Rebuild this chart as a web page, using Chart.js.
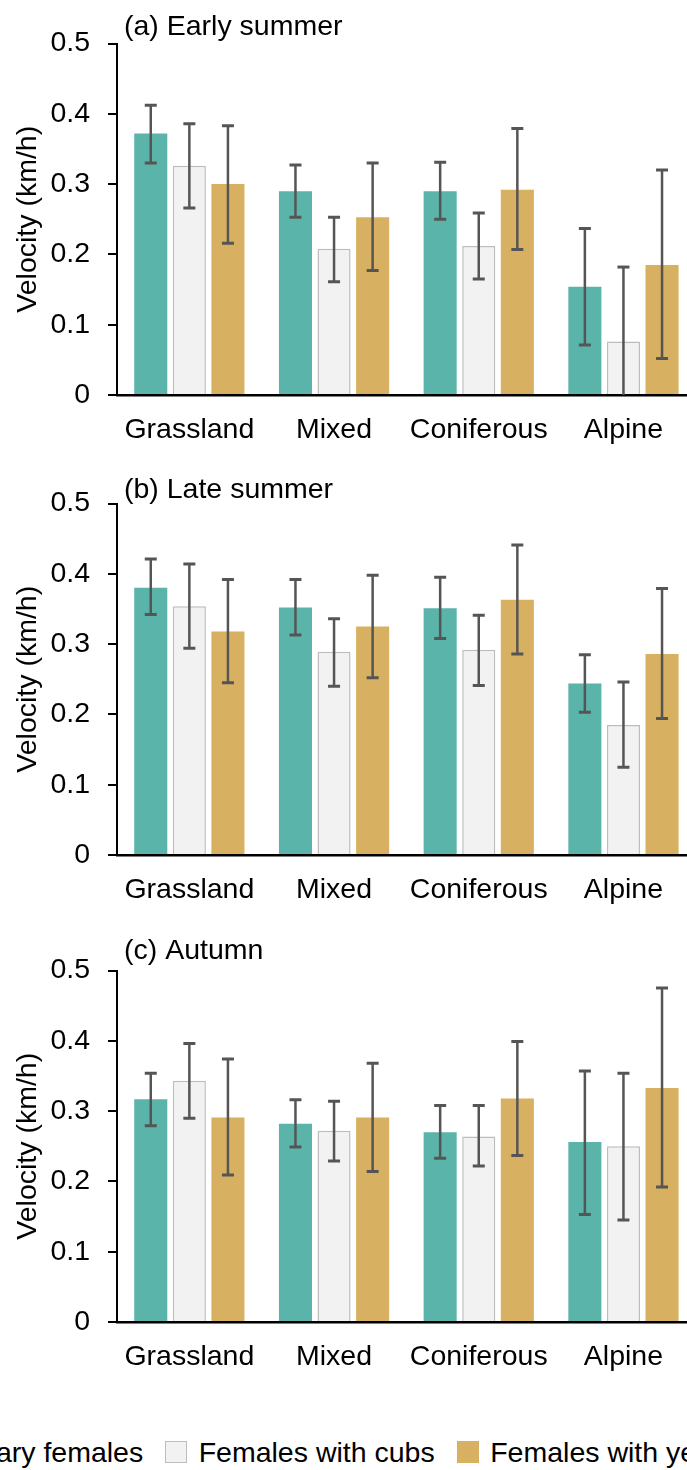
<!DOCTYPE html>
<html>
<head>
<meta charset="utf-8">
<title>Movement velocity by habitat and season</title>
<script src="https://cdn.jsdelivr.net/npm/chart.js@4/dist/chart.umd.min.js"></script>
<style>
  html, body { margin: 0; padding: 0; background: #ffffff; overflow: hidden; }
  body { width: 687px; height: 1470px; position: relative; }
  .panel { position: absolute; left: 0; width: 700px; height: 460px; }
  .legend {
    position: absolute; left: 0; top: 1432px; width: 687px; height: 40px;
    display: flex; justify-content: center; align-items: center;
    white-space: nowrap; font-family: "Liberation Sans", Arial, sans-serif;
    font-size: 28.5px; color: #000;
  }
  .legend .item { display: flex; align-items: center; margin: 0 11px; flex: none; }
  .legend .box { width: 22px; height: 22px; box-sizing: border-box; margin-right: 11.5px; flex: none; }
</style>
</head>
<body>
<div class="panel" style="top:0px"><canvas id="early" width="700" height="460"></canvas></div>
<div class="panel" style="top:460px"><canvas id="late" width="700" height="460"></canvas></div>
<div class="panel" style="top:927px"><canvas id="autumn" width="700" height="460"></canvas></div>
<div class="legend" id="legend"></div>

<script>
// Habitat categories and reproductive classes
const habitats = ['Grassland', 'Mixed', 'Coniferous', 'Alpine'];
const groups = ['Solitary females', 'Females with cubs', 'Females with yearlings'];
const yTicks = [0, 0.1, 0.2, 0.3, 0.4, 0.5];

// Mean velocity (km/h); one row per group, one column per habitat
const earlyMean  = [[0.372, 0.290, 0.290, 0.154], [0.326, 0.208, 0.212, 0.076], [0.300, 0.253, 0.292, 0.185]];
const earlyLow   = [[0.330, 0.253, 0.250, 0.071], [0.266, 0.161, 0.165, 0.000], [0.216, 0.177, 0.207, 0.052]];
const earlyHigh  = [[0.412, 0.327, 0.331, 0.237], [0.386, 0.253, 0.259, 0.182], [0.383, 0.330, 0.379, 0.320]];

const lateMean   = [[0.380, 0.352, 0.351, 0.244], [0.354, 0.289, 0.292, 0.185], [0.318, 0.325, 0.363, 0.286]];
const lateLow    = [[0.342, 0.313, 0.308, 0.203], [0.294, 0.240, 0.241, 0.125], [0.245, 0.252, 0.286, 0.194]];
const lateHigh   = [[0.421, 0.392, 0.395, 0.285], [0.414, 0.336, 0.341, 0.246], [0.392, 0.398, 0.441, 0.379]];

const autumnMean = [[0.317, 0.282, 0.270, 0.256], [0.343, 0.272, 0.264, 0.250], [0.291, 0.291, 0.318, 0.333]];
const autumnLow  = [[0.279, 0.249, 0.233, 0.153], [0.290, 0.229, 0.222, 0.145], [0.209, 0.214, 0.237, 0.192]];
const autumnHigh = [[0.354, 0.316, 0.308, 0.357], [0.396, 0.314, 0.308, 0.354], [0.374, 0.368, 0.399, 0.475]];

// Styling
const FONT = '"Liberation Sans", Arial, sans-serif';
const FONT_SIZE = 28.5;
const fills   = ['#5bb4aa', '#f2f2f2', '#d8b061'];
const borders = ['#5bb4aa', '#bdbdbd', '#d8b061'];
const borderWidths = [0, 1.5, 0];
const ERR_COLOR = '#555555';

Chart.defaults.font.family = FONT;
Chart.defaults.font.size = FONT_SIZE;
Chart.defaults.color = '#000000';

// Draws the confidence interval whiskers on top of each bar
const errorBars = {
  id: 'errorBars',
  afterDatasetsDraw(chart, args, opts) {
    const ctx = chart.ctx;
    const y = chart.scales.y;
    ctx.save();
    ctx.strokeStyle = ERR_COLOR;
    chart.data.datasets.forEach((ds, i) => {
      const meta = chart.getDatasetMeta(i);
      meta.data.forEach((bar, j) => {
        const yl = y.getPixelForValue(opts.low[i][j]);
        const yh = y.getPixelForValue(opts.high[i][j]);
        ctx.lineWidth = 2.5;
        ctx.beginPath();
        ctx.moveTo(bar.x, yl);
        ctx.lineTo(bar.x, yh);
        ctx.stroke();
        ctx.lineWidth = 3;
        ctx.beginPath();
        ctx.moveTo(bar.x - 6, yh); ctx.lineTo(bar.x + 6, yh);
        if (opts.low[i][j] > 0) { ctx.moveTo(bar.x - 6, yl); ctx.lineTo(bar.x + 6, yl); }
        ctx.stroke();
      });
    });
    ctx.restore();
  }
};

// Panel heading written just above the plotting area
const panelTitle = {
  id: 'panelTitle',
  afterDraw(chart, args, opts) {
    const ctx = chart.ctx;
    ctx.save();
    ctx.font = FONT_SIZE + 'px ' + FONT;
    ctx.fillStyle = '#000';
    ctx.textAlign = 'left';
    ctx.textBaseline = 'alphabetic';
    ctx.fillText(opts.text, chart.chartArea.left + 7, chart.chartArea.top - opts.gap);
    ctx.restore();
  }
};

function makePanel(id, title, gap, mean, low, high) {
  const datasets = groups.map((g, i) => ({
    label: g,
    data: mean[i],
    backgroundColor: fills[i],
    borderColor: borders[i],
    borderWidth: borderWidths[i],
    barPercentage: 0.857,
    categoryPercentage: 0.8
  }));
  return new Chart(document.getElementById(id), {
    type: 'bar',
    data: { labels: habitats, datasets },
    plugins: [errorBars, panelTitle],
    options: {
      responsive: false,
      animation: false,
      devicePixelRatio: 1,
      layout: { padding: { top: 43.5, bottom: 0, left: 0, right: 4.2 } },
      plugins: {
        legend: { display: false },
        tooltip: { enabled: false },
        errorBars: { low, high },
        panelTitle: { text: title, gap }
      },
      scales: {
        x: {
          grid: { drawOnChartArea: false, drawTicks: false },
          border: { display: true, color: '#000', width: 2.5 },
          ticks: { padding: 18.5, color: '#000', maxRotation: 0 },
          afterFit: (s) => { s.height = 65; }
        },
        y: {
          min: 0,
          max: 0.5,
          afterBuildTicks: (s) => { s.ticks = yTicks.map(v => ({ value: v })); },
          grid: { drawOnChartArea: false, drawTicks: true, tickLength: 9, color: '#000', lineWidth: 2 },
          border: { display: true, color: '#000', width: 2 },
          ticks: { padding: 18, color: '#000' },
          title: { display: true, text: 'Velocity (km/h)', color: '#000', padding: { top: 11, bottom: 0 } },
          afterFit: (s) => { s.width = 117; }
        }
      }
    }
  });
}

makePanel('early', '(a) Early summer', 8.5, earlyMean, earlyLow, earlyHigh);
makePanel('late', '(b) Late summer', 5.5, lateMean, lateLow, lateHigh);
makePanel('autumn', '(c) Autumn', 11.5, autumnMean, autumnLow, autumnHigh);

// Shared legend beneath the panels
const legend = document.getElementById('legend');
groups.forEach((g, i) => {
  const item = document.createElement('div');
  item.className = 'item';
  const box = document.createElement('span');
  box.className = 'box';
  box.style.background = fills[i];
  if (borderWidths[i] > 0) box.style.border = borderWidths[i] + 'px solid ' + borders[i];
  const label = document.createElement('span');
  label.textContent = g;
  item.appendChild(box);
  item.appendChild(label);
  legend.appendChild(item);
});
</script>
</body>
</html>
